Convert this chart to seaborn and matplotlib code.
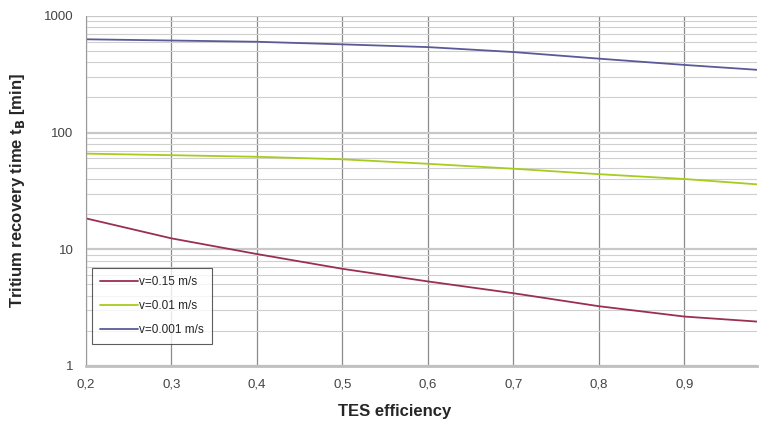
import pandas as pd
import seaborn as sns
import matplotlib.pyplot as plt
from matplotlib.ticker import FixedLocator, FuncFormatter, LogLocator, NullFormatter

# values
efficiency = [0.2, 0.3, 0.4, 0.5, 0.6, 0.7, 0.8, 0.9, 0.985]
t_v015 = [18.4, 12.4, 9.1, 6.8, 5.3, 4.2, 3.25, 2.65, 2.4]
t_v001 = [66, 64, 62, 59, 54, 49, 44, 40, 36]
t_v0001 = [630, 615, 600, 570, 540, 490, 430, 380, 345]
labels = ["v=0.15 m/s", "v=0.01 m/s", "v=0.001 m/s"]
colors = ["#9a3050", "#a8cc1c", "#5a5a98"]

data = pd.DataFrame({
    "TES efficiency": efficiency * 3,
    "t": t_v015 + t_v001 + t_v0001,
    "series": [labels[0]] * len(efficiency) + [labels[1]] * len(efficiency) + [labels[2]] * len(efficiency),
})

sns.set_style("white")
plt.rcParams['font.family'] = ['Liberation Sans', 'DejaVu Sans']

fig = plt.figure(figsize=(7.6, 4.29), dpi=100)
ax = fig.add_axes([0.113, 0.147, 0.883, 0.816])

sns.lineplot(data=data, x="TES efficiency", y="t", hue="series",
             palette=dict(zip(labels, colors)), linewidth=1.3, ax=ax)

ax.set_yscale("log")
ax.set_ylim(1, 1000)
ax.set_xlim(0.2, 0.985)

# grid: vertical major lines, horizontal lines at every log step
ax.xaxis.set_major_locator(FixedLocator([0.2, 0.3, 0.4, 0.5, 0.6, 0.7, 0.8, 0.9]))
ax.xaxis.set_major_formatter(FuncFormatter(lambda v, p: f"{v:.1f}".replace(".", ",")))
ax.yaxis.set_major_locator(FixedLocator([1, 10, 100, 1000]))
ax.yaxis.set_major_formatter(FuncFormatter(lambda v, p: f"{int(v)}"))
ax.yaxis.set_minor_locator(LogLocator(base=10, subs=range(2, 10)))
ax.yaxis.set_minor_formatter(NullFormatter())
ax.grid(True, axis="x", which="major", color="#8a8a8a", linewidth=0.9)
ax.grid(True, axis="y", which="major", color="#c8c8c8", linewidth=1.6)
ax.grid(True, axis="y", which="minor", color="#cfcfcf", linewidth=0.8)
ax.tick_params(axis="both", which="both", length=0, labelsize=9.5, colors="#444444", pad=9)

for s in ["top", "right"]:
    ax.spines[s].set_visible(False)
ax.spines["left"].set_color("#9a9a9a")
ax.spines["bottom"].set_color("#c0c0c0")
ax.spines["bottom"].set_linewidth(2)

ax.set_xlabel("TES efficiency", fontsize=12, fontweight="bold")
ax.xaxis.set_label_coords(0.46, -0.11)
ax.set_ylabel(r"Tritium recovery time t$_{\mathbf{B}}$ [min]", fontsize=12, fontweight="bold", labelpad=12)

leg = ax.legend(title=None, loc="lower left", bbox_to_anchor=(0.0, 0.045), fontsize=8.5,
                frameon=True, fancybox=False, edgecolor="#333333", handlelength=3.2,
                borderpad=0.7, labelspacing=1.0, handletextpad=0.1)
leg.get_frame().set_linewidth(0.8)

plt.savefig("out.png", dpi=100)
